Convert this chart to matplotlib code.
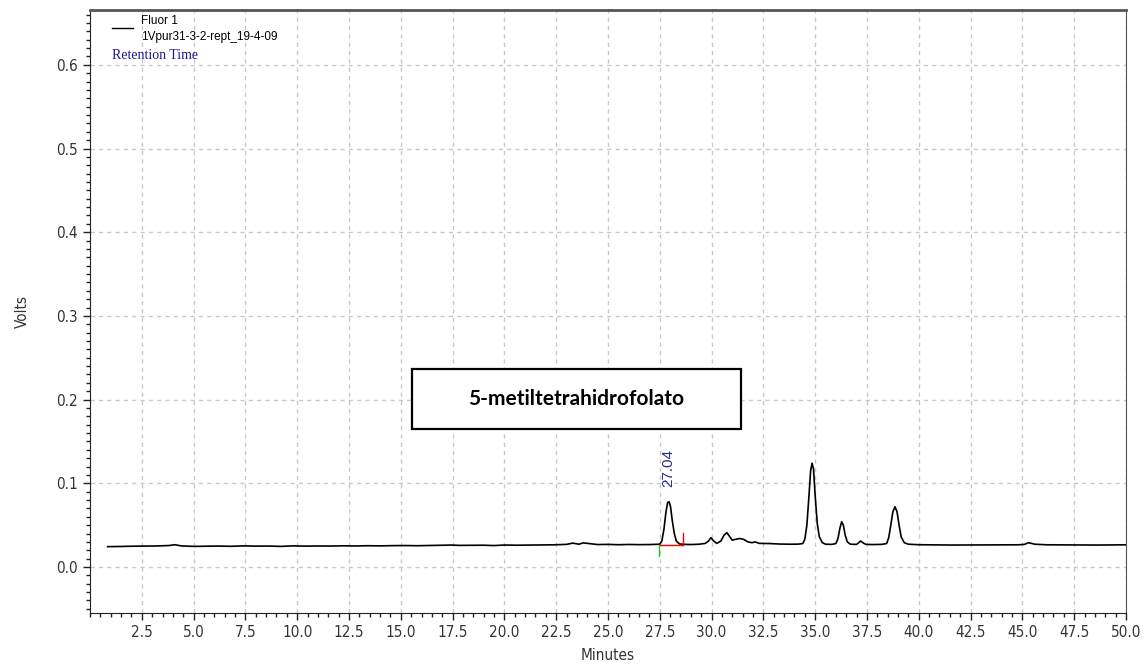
import matplotlib
matplotlib.use("Agg")
import matplotlib.pyplot as plt
import matplotlib.ticker as mtick
from matplotlib.lines import Line2D
from matplotlib.patches import Rectangle
from matplotlib import font_manager

# trace (minutes, volts)
minutes = [0.85, 1.5, 2.0, 2.6, 3.2, 3.8, 4.1, 4.4, 5.0, 5.6,
           6.2, 6.8, 7.4, 8.0, 8.6, 9.2, 9.8, 10.4, 11.0, 11.6,
           12.2, 12.8, 13.4, 14.0, 14.6, 15.2, 15.8, 16.4, 17.0, 17.5,
           17.8, 18.4, 19.0, 19.5, 20.0, 20.6, 21.2, 21.8, 22.4, 23.0,
           23.3, 23.6, 23.8, 24.1, 24.5, 25.0, 25.5, 26.0, 26.5, 27.0,
           27.3, 27.5, 27.6, 27.7, 27.8, 27.88, 27.95, 28.02, 28.1, 28.2,
           28.3, 28.45, 28.7, 29.0, 29.4, 29.7, 29.85, 29.97, 30.1, 30.25,
           30.45, 30.6, 30.74, 30.88, 31.0, 31.15, 31.35, 31.55, 31.75, 31.95,
           32.1, 32.3, 32.8, 33.3, 33.8, 34.2, 34.4, 34.5, 34.6, 34.7,
           34.78, 34.85, 34.92, 35.0, 35.1, 35.2, 35.35, 35.5, 35.8, 36.0,
           36.1, 36.2, 36.28, 36.36, 36.45, 36.55, 36.7, 37.0, 37.1, 37.2,
           37.3, 37.45, 37.8, 38.2, 38.45, 38.55, 38.65, 38.75, 38.85, 38.95,
           39.05, 39.15, 39.3, 39.5, 40.0, 40.8, 41.6, 42.4, 43.2, 44.0,
           44.8, 45.1, 45.3, 45.6, 46.2, 47.0, 47.8, 48.6, 49.4, 50.0]
volts = [0.0243, 0.0245, 0.0248, 0.0250, 0.0251, 0.0256, 0.0266, 0.0252, 0.0246, 0.0248,
         0.0250, 0.0247, 0.0252, 0.0249, 0.0250, 0.0246, 0.0252, 0.0249, 0.0251, 0.0250,
         0.0253, 0.0251, 0.0254, 0.0252, 0.0255, 0.0256, 0.0254, 0.0257, 0.0259, 0.0262,
         0.0258, 0.0259, 0.0260, 0.0256, 0.0262, 0.0260, 0.0262, 0.0263, 0.0265, 0.0270,
         0.0285, 0.0272, 0.0288, 0.0279, 0.0268, 0.0270, 0.0266, 0.0269, 0.0267, 0.0268,
         0.0270, 0.0272, 0.0310, 0.0450, 0.0660, 0.0770, 0.0780, 0.0720, 0.0560, 0.0400,
         0.0310, 0.0275, 0.0270, 0.0268, 0.0272, 0.0282, 0.0310, 0.0350, 0.0310, 0.0282,
         0.0310, 0.0380, 0.0410, 0.0360, 0.0320, 0.0330, 0.0340, 0.0330, 0.0300, 0.0290,
         0.0300, 0.0282, 0.0280, 0.0274, 0.0272, 0.0273, 0.0280, 0.0330, 0.0500, 0.0850,
         0.1150, 0.1240, 0.1170, 0.0850, 0.0520, 0.0360, 0.0290, 0.0272, 0.0270, 0.0280,
         0.0340, 0.0470, 0.0540, 0.0500, 0.0380, 0.0300, 0.0272, 0.0270, 0.0290, 0.0310,
         0.0290, 0.0270, 0.0268, 0.0270, 0.0280, 0.0350, 0.0500, 0.0660, 0.0720, 0.0660,
         0.0500, 0.0360, 0.0290, 0.0272, 0.0266, 0.0264, 0.0262, 0.0263, 0.0265, 0.0264,
         0.0265, 0.0270, 0.0290, 0.0272, 0.0265, 0.0264, 0.0263, 0.0262, 0.0264, 0.0265]

x_ticks = [2.5, 5.0, 7.5, 10.0, 12.5, 15.0, 17.5, 20.0, 22.5, 25.0, 27.5, 30.0,
           32.5, 35.0, 37.5, 40.0, 42.5, 45.0, 47.5, 50.0]
peak_label = "27.04"
peak_pos = (27.92, 0.096)
integration_start = 27.46
integration_end = 28.62
baseline_level = 0.0266
compound_name = "5-metiltetrahidrofolato"

# narrow axis font if one is around, else plain Liberation Sans
names = {f.name for f in font_manager.fontManager.ttflist}
condensed = [f for f in font_manager.fontManager.ttflist
             if f.name == "DejaVu Sans" and "ondensed" in f.fname and f.weight in (400, "normal")]
if "Liberation Sans Narrow" in names:
    axis_font = dict(family="Liberation Sans Narrow")
elif condensed:
    axis_font = dict(family="DejaVu Sans", stretch="condensed")
else:
    axis_font = dict(family="Liberation Sans")
plt.rcParams["font.family"] = [axis_font["family"], "DejaVu Sans"]
if "stretch" in axis_font:
    plt.rcParams["font.stretch"] = axis_font["stretch"]
tick_color = "#333333"
label_size = 11 if "stretch" in axis_font else 12

fig = plt.figure(figsize=(11.48, 6.69), dpi=100)
ax = fig.add_axes([0.0784, 0.0837, 0.9024, 0.9013])

ax.plot(minutes, volts, color="black", lw=1.2)

# integration markers
ax.plot([integration_start, integration_end], [baseline_level, baseline_level], color="red", lw=1)
ax.plot([integration_end, integration_end], [baseline_level, 0.041], color="red", lw=1)
ax.plot([integration_start, integration_start], [baseline_level, 0.0135], color="#22cc22", lw=1)

ax.text(peak_pos[0], peak_pos[1], peak_label, rotation=90, ha="center", va="bottom",
        color="#2a2a90", fontsize=11, family=["Liberation Sans", "DejaVu Sans"], stretch="normal")

ax.set_xlim(0, 50)
ax.set_ylim(-0.055, 0.6655)
ax.set_xticks(x_ticks)
ax.xaxis.set_minor_locator(mtick.MultipleLocator(0.5))
ax.yaxis.set_major_locator(mtick.MultipleLocator(0.1))
ax.yaxis.set_minor_locator(mtick.MultipleLocator(0.01))
ax.xaxis.set_major_formatter(mtick.FormatStrFormatter("%.1f"))
ax.yaxis.set_major_formatter(mtick.FormatStrFormatter("%.1f"))
ax.tick_params(which="major", direction="out", length=5, width=1, colors="#222222",
               labelcolor=tick_color, labelsize=label_size)
ax.tick_params(which="minor", direction="out", length=3, width=1, colors="#222222")
ax.grid(which="major", color="#c8c8c8", linestyle=(0, (3, 3)), lw=1)

ax.spines["top"].set_linewidth(2)
ax.spines["top"].set_color("#555555")
ax.spines["left"].set_color("#222222")
ax.spines["bottom"].set_color("#222222")
ax.spines["right"].set_color("#555555")

ax.set_xlabel("Minutes", fontsize=label_size, color=tick_color, labelpad=6)
ax.set_ylabel("Volts", fontsize=label_size, color=tick_color, labelpad=19)

# legend-like header
ax.add_line(Line2D([0.021, 0.0415], [0.970, 0.970], transform=ax.transAxes, color="black", lw=1))
ax.text(0.0492, 0.982, "Fluor 1", transform=ax.transAxes, va="center", fontsize=8.5,
        family=["Liberation Sans", "DejaVu Sans"], stretch="normal")
ax.text(0.0492, 0.955, "1Vpur31-3-2-rept_19-4-09", transform=ax.transAxes, va="center",
        fontsize=8.5, family=["Liberation Sans", "DejaVu Sans"], stretch="normal")
ax.text(0.021, 0.925, "Retention Time", transform=ax.transAxes, va="center", fontsize=10,
        color="#1a1a8c", family=["Liberation Serif", "DejaVu Serif"], stretch="normal")

# compound box
ax.add_patch(Rectangle((0.3108, 0.3051), 0.3176, 0.0995, transform=ax.transAxes,
                       facecolor="white", edgecolor="black", lw=1.6, zorder=5))
ax.text(0.4696, 0.3549, compound_name, transform=ax.transAxes, ha="center", va="center",
        fontsize=15, fontweight="bold", family=["Lato", "Open Sans", "DejaVu Sans"],
        stretch="normal", zorder=6)

fig.savefig("out.png", dpi=100)
